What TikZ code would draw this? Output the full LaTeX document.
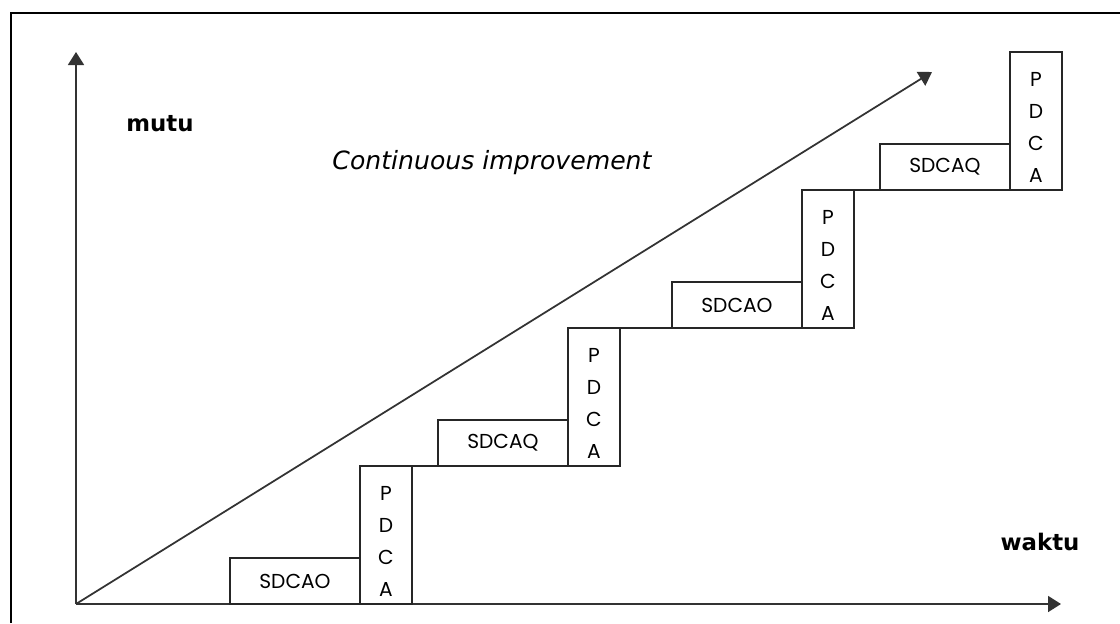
\documentclass[tikz,border=0pt]{standalone}
\usepackage{fontspec}
\setmainfont{DejaVu Sans}
\newfontfamily\boxfont{Poppins}
\usetikzlibrary{positioning,calc,arrows.meta}

\tikzset{
    sdca/.style={draw=black!85, line width=1pt, minimum width=2.6cm, minimum height=0.92cm,
        inner sep=0pt, outer sep=0pt, font=\boxfont\fontsize{11.5}{13}\selectfont},
    pdca/.style={draw=black!85, line width=1pt, minimum width=1.04cm, minimum height=2.76cm,
        inner sep=0pt, outer sep=0pt},
    letter/.style={inner sep=0pt, font=\boxfont\fontsize{11.5}{13}\selectfont},
    axis/.style={draw=black!80, line width=1pt, -{Triangle[length=0.26cm, width=0.32cm]}},
    axislabel/.style={font=\bfseries\fontsize{13}{15}\selectfont}
}

\begin{document}
\begin{tikzpicture}[x=0.02cm, y=-0.02cm]
    \useasboundingbox (0,0) rectangle (1120,623);
    % frame
    \draw[line width=1.2pt] (11,623) -- (11,13) -- (1120,13);

    % axes
    \coordinate (O) at (76,604);
    \coordinate (ytip) at (76,52);
    \coordinate (xtip) at (1061,604);
    \coordinate (ctip) at (932,72);
    \draw[axis] (O) -- (ytip);
    \draw[axis] (O) -- (xtip);
    \draw[axis] (O) -- (ctip);

    \node[axislabel] (mutu) at (160,124) {mutu};
    \node[axislabel] (waktu) at (1040,542) {waktu};
    \node[font=\itshape\fontsize{14.3}{16}\selectfont] (ci) at (492,163) {Continuous improvement};

    % the steps
    \foreach \x/\y/\lab [count=\i] in {230/604/SDCAO, 438/466/SDCAQ, 672/328/SDCAO, 880/190/SDCAQ} {
        \node[sdca, anchor=south west] (s\i) at (\x,\y) {\lab};
        \node[pdca, anchor=south west] (p\i) at (s\i.south east) {};
        \foreach \c [count=\j] in {P,D,C,A}
            \node[letter] (p\i\c) at ($(p\i.north)+(0,{27+32*(\j-1)})$) {\c};
    }
    \draw[draw=black!85, line width=1pt] (p1.north east) -- (s2.south west);
    \draw[draw=black!85, line width=1pt] (p2.north east) -- (s3.south west);
    \draw[draw=black!85, line width=1pt] (p3.north east) -- (s4.south west);
\end{tikzpicture}
\end{document}
